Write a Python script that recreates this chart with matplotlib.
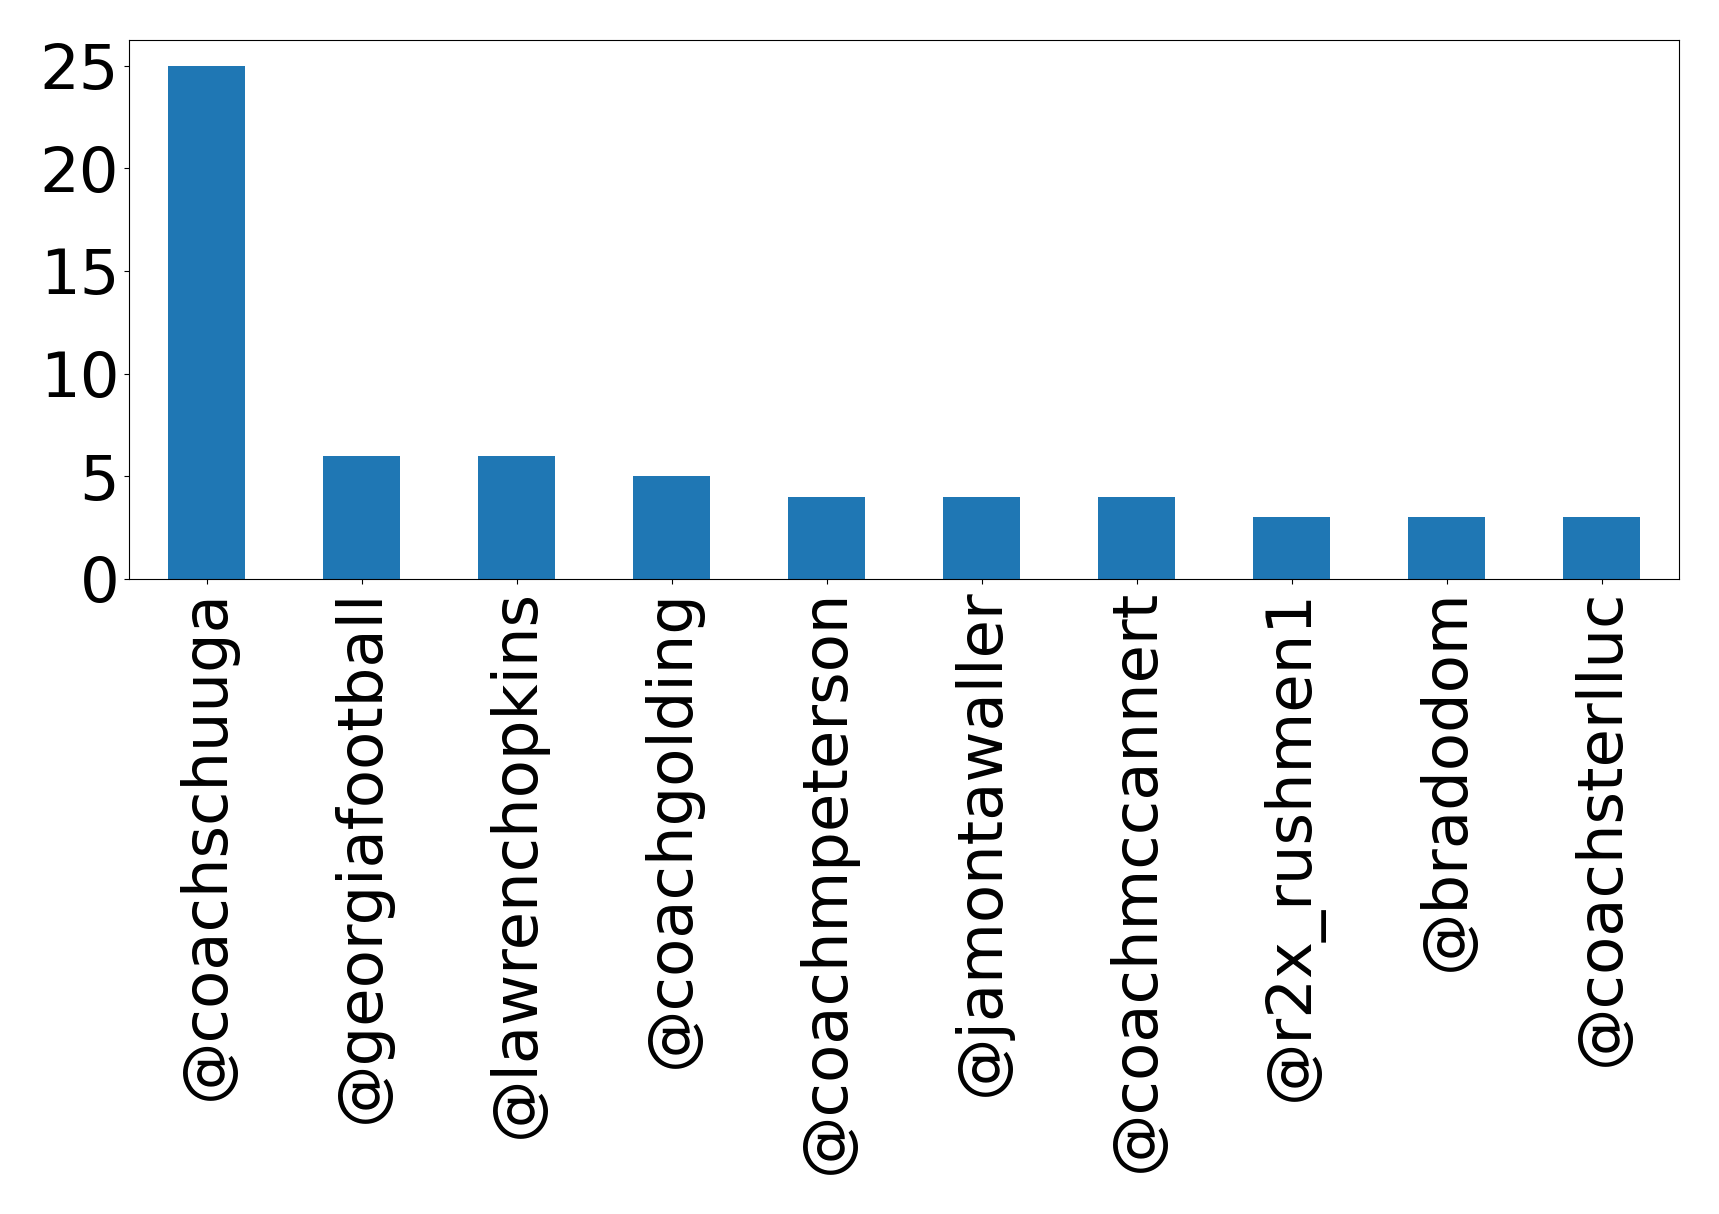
import matplotlib
matplotlib.use("Agg")
import matplotlib.pyplot as plt

categories = ["@coachschuuga", "@georgiafootball", "@lawrenchopkins", "@coachgolding",
              "@coachmpeterson", "@jamontawaller", "@coachmccannert", "@r2x_rushmen1",
              "@bradodom", "@coachsterlluc"]
values = [25, 6, 6, 5, 4, 4, 4, 3, 3, 3]

fig = plt.figure(figsize=(17.19, 12.14), dpi=100)
ax = fig.add_axes([129/1719, 1 - 579/1214, (1679-129)/1719, (579-40)/1214])
x = list(range(len(categories)))
ax.bar(x, values, width=0.5, color="#1f77b4")
ax.set_xlim(-0.5, len(categories) - 0.5)
ax.set_ylim(0, 26.25)
ax.set_xticks(x)
ax.set_xticklabels(categories, rotation=90, fontsize=45)
ax.set_yticks([0, 5, 10, 15, 20, 25])
ax.tick_params(axis="y", labelsize=45)
fig.savefig("out.png", dpi=100)
